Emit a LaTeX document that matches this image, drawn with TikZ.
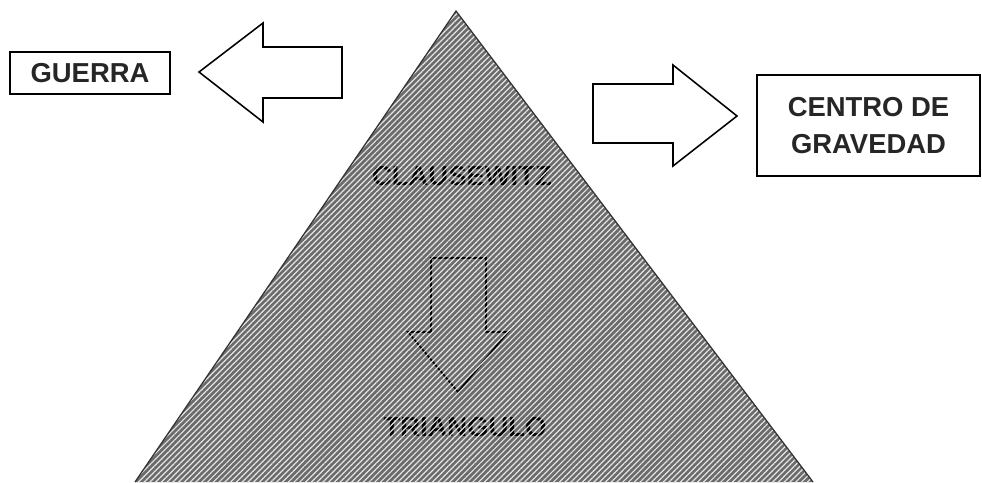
\documentclass[tikz,border=0pt]{standalone}
\usepackage{fontspec}
\setmainfont{Liberation Sans}
\usetikzlibrary{patterns.meta}

\begin{document}
\begin{tikzpicture}[
    x=0.025cm, y=-0.025cm,
    label/.style={font=\bfseries\fontsize{19.5}{26}\selectfont, align=center},
    box/.style={label, draw, line width=1.1pt, text=black!85},
    inner/.style={label, text=black},
    blockarrow/.style={draw, line width=1.1pt, fill=white, line join=miter},
    hatch/.style={pattern={Lines[angle=45, distance=2.9pt, line width=0.85pt]},
                  pattern color=white!90!black}
]
    \useasboundingbox (0,0) rectangle (982,482);
    \clip (0,0) rectangle (982,482);

    % triangle
    \coordinate (apex)  at (456,11);
    \coordinate (left)  at (135,482);
    \coordinate (right) at (813,482);
    \fill[black!58] (apex) -- (left) -- (right) -- cycle;

    \node[inner] (clausewitz) at (462,176) {CLAUSEWITZ};
    \node[inner] (triangulo)  at (465,427) {TRIANGULO};

    % arrow inside the triangle
    \draw[line width=1.2pt, black, line join=miter]
        (431,258) -- (486,258) -- (486,332) -- (508,332) -- (458,392)
        -- (408,332) -- (431,332) -- cycle;

    \path[hatch] (apex) -- (left) -- (right) -- cycle;
    \draw[line width=0.9pt, black!80] (left) -- (apex) -- (right);

    % boxes
    \node[box, minimum width=4cm, minimum height=1.05cm] (guerra) at (90,73) {GUERRA};
    \node[box, minimum width=5.575cm, minimum height=2.525cm] (centro) at (868.5,125.5)
        {CENTRO DE\\GRAVEDAD};

    % block arrows
    \draw[blockarrow] (342,47) -- (263,47) -- (263,23) -- (199,72)
        -- (263,122) -- (263,98) -- (342,98) -- cycle;
    \draw[blockarrow] (593,84) -- (673,84) -- (673,65) -- (737,116)
        -- (673,166) -- (673,143) -- (593,143) -- cycle;
\end{tikzpicture}
\end{document}
